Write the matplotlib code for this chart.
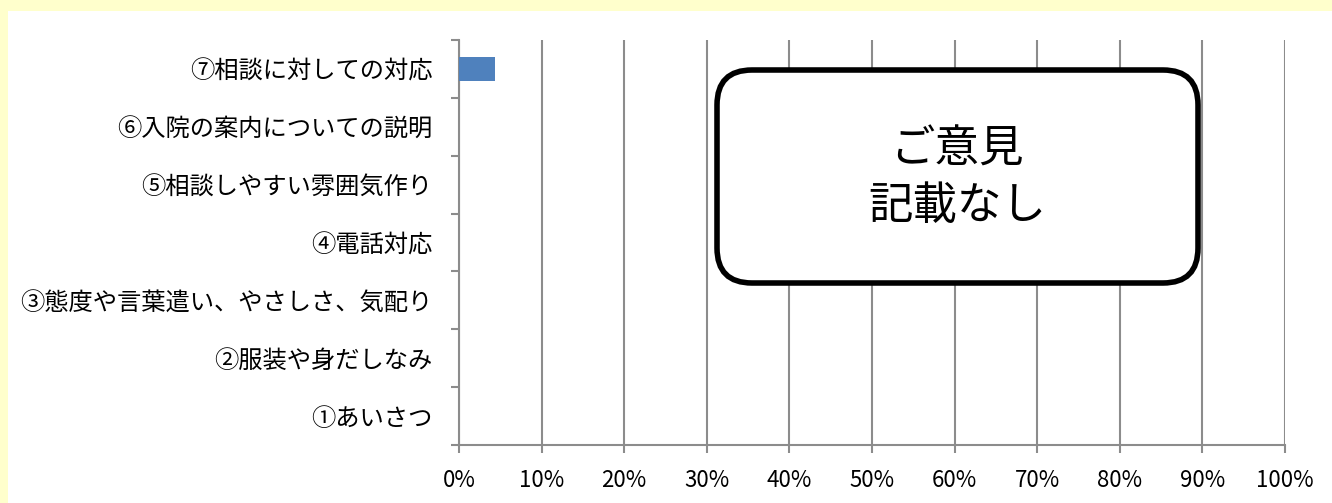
import matplotlib
matplotlib.use("Agg")
import matplotlib.pyplot as plt
from matplotlib.patches import FancyBboxPatch, Rectangle
from matplotlib.ticker import FixedLocator, PercentFormatter

plt.rcParams['font.family'] = ['Noto Sans CJK JP', 'DejaVu Sans']

categories = ["①あいさつ", "②服装や身だしなみ", "③態度や言葉遣い、やさしさ、気配り",
              "④電話対応", "⑤相談しやすい雰囲気作り", "⑥入院の案内についての説明",
              "⑦相談に対しての対応"]
values = [0, 0, 0, 0, 0, 0, 4.3]
xticks = [0, 10, 20, 30, 40, 50, 60, 70, 80, 90, 100]
note_text = "ご意見\n記載なし"

W, H = 1332, 503
fig = plt.figure(figsize=(W / 100, H / 100), dpi=100)
fig.patch.set_facecolor("white")

# background frame (yellow strip left/top)
bg = fig.add_axes([0, 0, 1, 1])
bg.set_xlim(0, W)
bg.set_ylim(H, 0)
bg.axis("off")
bg.add_patch(Rectangle((0, 0), W, H, facecolor="#FFFFCC", edgecolor="none"))
bg.add_patch(Rectangle((8, 11), W - 8, H - 11, facecolor="white", edgecolor="none"))

ax = fig.add_axes([459 / W, 1 - 445 / H, (1285 - 459) / W, (445 - 40) / H])
ax.set_facecolor("none")
ypos = list(range(len(categories)))
ax.barh(ypos, values, height=0.4, color="#4F81BD", zorder=3)
ax.set_xlim(0, 100)
ax.set_ylim(-0.5, len(categories) - 0.5)
ax.set_xticks(xticks)
ax.xaxis.set_major_formatter(PercentFormatter(decimals=0))
ax.grid(axis="x", color="#8C8C8C", linewidth=1.5, zorder=0)
ax.set_yticks(ypos)
ax.set_yticklabels(categories, fontsize=17.5)
ax.yaxis.set_minor_locator(FixedLocator([i - 0.5 for i in range(len(categories) + 1)]))
ax.tick_params(axis="y", which="major", length=0, pad=19)
ax.tick_params(axis="y", which="minor", length=6, width=1.5, color="#8C8C8C", direction="out")
ax.tick_params(axis="x", length=6, width=1.5, color="#8C8C8C", direction="out", labelsize=16, pad=11)
for s in ["top", "right"]:
    ax.spines[s].set_visible(False)
for s in ["left", "bottom"]:
    ax.spines[s].set_color("#8C8C8C")
    ax.spines[s].set_linewidth(1.5)

# overlay note box
ov = fig.add_axes([0, 0, 1, 1])
ov.set_xlim(0, W)
ov.set_ylim(H, 0)
ov.axis("off")
ov.set_facecolor("none")
ov.add_patch(FancyBboxPatch((717 + 35, 70 + 35), 481 - 70, 213 - 70,
                            boxstyle="round,pad=35,rounding_size=35",
                            facecolor="white", edgecolor="black", linewidth=4))
ov.text(957, 178, note_text, ha="center", va="center", fontsize=32, linespacing=1.3)

fig.savefig("out.png", dpi=100)
